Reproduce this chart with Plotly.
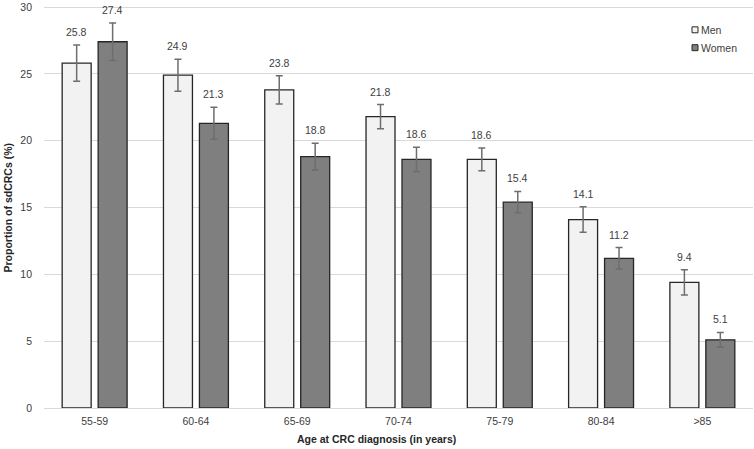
import plotly.graph_objects as go

categories = ["55-59", "60-64", "65-69", "70-74", "75-79", "80-84", ">85"]
men = [25.8, 24.9, 23.8, 21.8, 18.6, 14.1, 9.4]
women = [27.4, 21.3, 18.8, 18.6, 15.4, 11.2, 5.1]
men_err = [1.35, 1.2, 1.05, 0.9, 0.85, 0.95, 0.95]
women_err = [1.4, 1.2, 1.0, 0.9, 0.8, 0.8, 0.55]
y_ticks = [0, 5, 10, 15, 20, 25, 30]

FONT = "Liberation Sans, Arial, sans-serif"
MEN_FILL = "#f2f2f2"
WOMEN_FILL = "#7f7f7f"
EDGE = "#262626"
ERR = "#6e6e6e"

# plot area geometry (pixels)
TOP, BOTTOM, LEFT, RIGHT = 2, 41, 44, 1
PLOT_H = 449 - TOP - BOTTOM
PLOT_W = 754 - LEFT - RIGHT
Y_MAX = 30.15

fig = go.Figure()
for name, vals, errs, fill in [("Men", men, men_err, MEN_FILL), ("Women", women, women_err, WOMEN_FILL)]:
    fig.add_trace(go.Bar(
        name=name, x=categories, y=vals,
        marker=dict(color=fill, line=dict(color=EDGE, width=1.3)),
        error_y=dict(type="data", array=errs, visible=True, color=ERR, thickness=1.5, width=3.5),
        showlegend=False,
    ))

fig.update_layout(
    barmode="group",
    bargap=0.29,
    bargroupgap=0.194,
    width=754, height=449,
    margin=dict(l=LEFT, r=RIGHT, t=TOP, b=BOTTOM),
    paper_bgcolor="white",
    plot_bgcolor="white",
    font=dict(family=FONT, size=10.5, color="#404040"),
    showlegend=False,
    xaxis=dict(
        showgrid=False, showline=True, linecolor="#d9d9d9", linewidth=1,
        ticks="", ticklabelstandoff=3,
        tickfont=dict(family=FONT, size=10.5, color="#404040"),
    ),
    yaxis=dict(
        range=[0, Y_MAX], tickvals=y_ticks, showgrid=True, gridcolor="#d9d9d9", gridwidth=1,
        zeroline=False, showline=False, ticks="", ticklabelstandoff=11,
        ticklabeloverflow="allow",
        tickfont=dict(family=FONT, size=10.5, color="#404040"),
    ),
)

ann = []
bar_shift = 18  # pixel offset of each bar from its category center
for i, cat in enumerate(categories):
    for sh, vals, errs in [(-bar_shift, men, men_err), (bar_shift, women, women_err)]:
        ann.append(dict(
            x=cat, y=vals[i] + errs[i], xref="x", yref="y",
            text=f"{vals[i]:.1f}", showarrow=False,
            xshift=sh, yshift=13, yanchor="middle", xanchor="center",
            font=dict(family=FONT, size=10.5, color="#404040"),
        ))

def px_x(x):
    return (x - LEFT) / PLOT_W

def px_y(y):
    return (449 - BOTTOM - y) / PLOT_H

# axis titles
ann.append(dict(text="<b>Age at CRC diagnosis (in years)</b>", xref="paper", yref="paper",
                x=px_x(376), y=px_y(439), showarrow=False,
                xanchor="center", yanchor="middle",
                font=dict(family=FONT, size=10.5, color="#262626")))
ann.append(dict(text="<b>Proportion of sdCRCs (%)</b>", xref="paper", yref="paper",
                x=px_x(8), y=px_y(206), textangle=-90, showarrow=False,
                xanchor="center", yanchor="middle",
                font=dict(family=FONT, size=10.5, color="#262626")))

# custom legend
shapes = []
legend_items = [("Men", MEN_FILL, 27), ("Women", WOMEN_FILL, 45)]
for name, fill, py in legend_items:
    shapes.append(dict(type="rect", xref="paper", yref="paper",
                       x0=px_x(692), x1=px_x(698), y0=px_y(py + 3), y1=px_y(py - 3),
                       fillcolor=fill, line=dict(color=EDGE, width=1)))
    ann.append(dict(text=name, xref="paper", yref="paper", x=px_x(699), y=px_y(py),
                    xanchor="left", yanchor="middle", showarrow=False,
                    font=dict(family=FONT, size=10.5, color="#404040")))

fig.update_layout(annotations=ann, shapes=shapes)
fig.write_html("out.html", config={"displayModeBar": False},
               post_script="document.body.style.margin='0';document.body.style.overflow='hidden';")
